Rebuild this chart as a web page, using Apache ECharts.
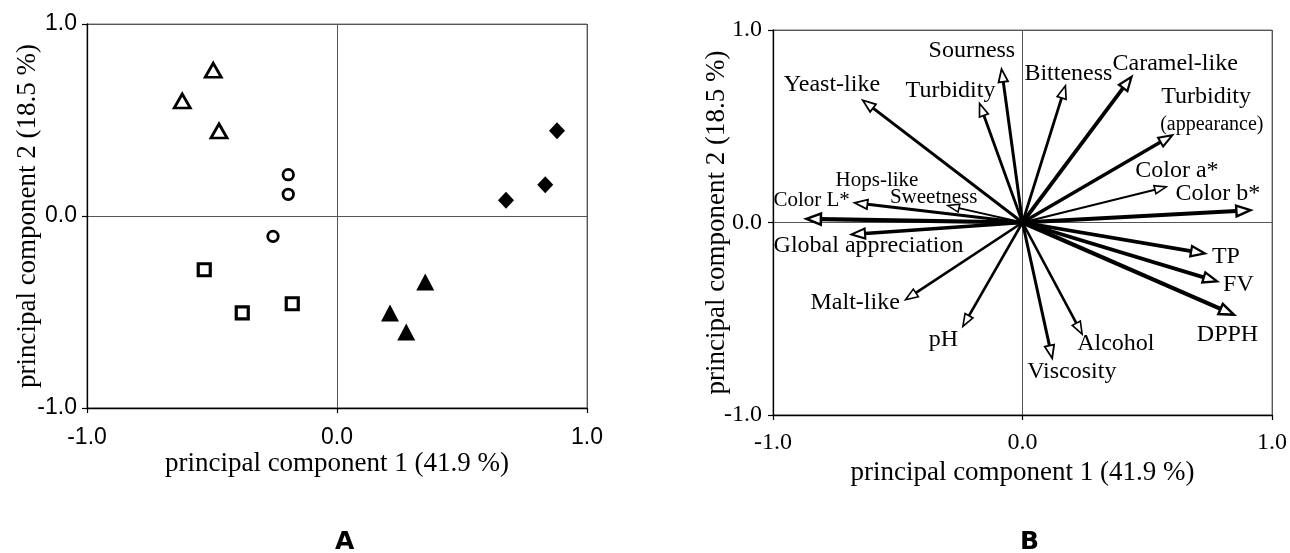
<!DOCTYPE html>
<html><head><meta charset="utf-8">
<script src="https://cdn.jsdelivr.net/npm/echarts@6/dist/echarts.min.js"></script>
<style>html,body{margin:0;padding:0;background:#fff}#c{width:1290px;height:553px}</style>
</head><body><div id="c"></div>
<script>
// ---- tick labels / titles ----
const tickValues = [-1, 0, 1];
const xTickLabels = ['-1.0', '0.0', '1.0'];
const yTickLabels = ['-1.0', '0.0', '1.0'];
const axisTitleX = 'principal component 1 (41.9 %)';
const axisTitleY = 'principal component 2 (18.5 %)';
const panelLabels = ['A', 'B'];

// ---- Panel A: scores (PC1, PC2) ----
const openTriangle   = [[-0.495, 0.759], [-0.619, 0.599], [-0.472, 0.443]];
const openCircle     = [[-0.195, 0.215], [-0.195, 0.113], [-0.256, -0.106]];
const openSquare     = [[-0.531, -0.280], [-0.379, -0.505], [-0.179, -0.457]];
const filledTriangle = [[0.353, -0.344], [0.212, -0.505], [0.277, -0.604]];
const filledDiamond  = [[0.880, 0.444], [0.833, 0.163], [0.676, 0.082]];

// ---- Panel B: loadings ----
const variables = ['Sourness', 'Turbidity', 'Yeast-like', 'Bitteness', 'Caramel-like',
  'Turbidity (appearance)', 'Color a*', 'Color b*', 'TP', 'FV', 'DPPH', 'Alcohol',
  'Viscosity', 'pH', 'Malt-like', 'Global appreciation', 'Color L*', 'Hops-like', 'Sweetness'];
const pc1 = [-0.084, -0.172, -0.640, 0.172, 0.437, 0.600, 0.576, 0.914, 0.731, 0.780,
  0.847, 0.239, 0.119, -0.239, -0.469, -0.685, -0.866, -0.673, -0.299];
const pc2 = [0.797, 0.618, 0.635, 0.710, 0.757, 0.453, 0.185, 0.064, -0.161, -0.306,
  -0.479, -0.580, -0.705, -0.540, -0.401, -0.062, 0.019, 0.102, 0.088];

// ---- styling (not data) ----
const arrowStyle = {
  'Sourness': 3.0, 'Turbidity': 2.8, 'Yeast-like': 3.0, 'Bitteness': 2.8, 'Caramel-like': 3.8,
  'Turbidity (appearance)': 3.4, 'Color a*': 2.0, 'Color b*': 4.0, 'TP': 3.8, 'FV': 3.8,
  'DPPH': 4.2, 'Alcohol': 2.6, 'Viscosity': 3.0, 'pH': 2.6, 'Malt-like': 2.6,
  'Global appreciation': 3.4, 'Color L*': 4.2, 'Hops-like': 3.0, 'Sweetness': 1.8
};
// label lines: [text, dx(left edge from tip), dy(middle from tip), font size]
const labelLayout = {
  'Sourness': [['Sourness', -73, -18, 24]],
  'Turbidity': [['Turbidity', -74, -13, 24]],
  'Yeast-like': [['Yeast-like', -79, -16, 24]],
  'Bitteness': [['Bitteness', -41, -12, 24]],
  'Caramel-like': [['Caramel-like', -19, -13, 24]],
  'Turbidity (appearance)': [['Turbidity', -11, -39, 24], ['(appearance)', -12, -11, 20]],
  'Color a*': [['Color a*', -31, -16, 24]],
  'Color b*': [['Color b*', -75, -16, 24]],
  'TP': [['TP', 7, 3, 24]],
  'FV': [['FV', 6, 3, 24]],
  'DPPH': [['DPPH', -37, 20, 24]],
  'Alcohol': [['Alcohol', -5, 10, 24]],
  'Viscosity': [['Viscosity', -25, 13, 24]],
  'pH': [['pH', -34, 13, 24]],
  'Malt-like': [['Malt-like', -95, 3, 24]],
  'Global appreciation': [['Global appreciation', -78, 11, 24]],
  'Color L*': [['Color L*', -33, -18, 21]],
  'Hops-like': [['Hops-like', -19, -22, 21]],
  'Sweetness': [['Sweetness', -58, -8, 21]]
};

const SERIF = '"Liberation Serif", "Times New Roman", serif';
const SANS = '"Liberation Sans", Arial, sans-serif';

function tickFmt(labels) {
  return function (v) {
    const i = tickValues.findIndex(t => Math.abs(t - v) < 1e-9);
    return i >= 0 ? labels[i] : '';
  };
}

function makeX(gi, labelFont, labelSize, labelMargin, nameGap) {
  return {
    gridIndex: gi, type: 'value', min: -1, max: 1, interval: 1,
    axisLine: { show: true, onZero: false, lineStyle: { color: '#000', width: 1.3 } },
    axisTick: { show: true, length: 5, lineStyle: { color: '#000', width: 1.2 } },
    splitLine: { show: true, lineStyle: { color: '#555', width: 1 } },
    axisLabel: { formatter: tickFmt(xTickLabels), color: '#000', fontFamily: labelFont, fontSize: labelSize, margin: labelMargin },
    name: axisTitleX, nameLocation: 'middle', nameGap: nameGap, nameMoveOverlap: false,
    nameTextStyle: { fontFamily: SERIF, fontSize: 27, color: '#000' }
  };
}
function makeY(gi, labelFont, labelSize, labelMargin, nameGap) {
  return {
    gridIndex: gi, type: 'value', min: -1, max: 1, interval: 1,
    axisLine: { show: true, onZero: false, lineStyle: { color: '#000', width: 1.3 } },
    axisTick: { show: true, length: 5, lineStyle: { color: '#000', width: 1.2 } },
    splitLine: { show: true, lineStyle: { color: '#555', width: 1 } },
    axisLabel: { formatter: tickFmt(yTickLabels), color: '#000', fontFamily: labelFont, fontSize: labelSize, margin: labelMargin },
    name: axisTitleY, nameLocation: 'middle', nameGap: nameGap, nameRotate: 90, nameMoveOverlap: false,
    nameTextStyle: { fontFamily: SERIF, fontSize: 27, color: '#000' }
  };
}

const arrowData = variables.map((n, i) => [pc1[i], pc2[i], i]);

const chart = echarts.init(document.getElementById('c'), null, { renderer: 'canvas' });
chart.setOption({
  animation: false,
  backgroundColor: '#fff',
  grid: [
    { left: 87, top: 24, width: 500, height: 384, show: true, borderColor: '#777', borderWidth: 1 },
    { left: 773, top: 30, width: 500, height: 385, show: true, borderColor: '#777', borderWidth: 1 }
  ],
  xAxis: [makeX(0, SANS, 23, 18, 42), makeX(1, SERIF, 24, 16, 44)],
  yAxis: [makeY(0, SANS, 23, 10, 46), makeY(1, SERIF, 24, 11, 43)],
  graphic: [
    { type: 'text', left: 335, top: 530, style: { text: panelLabels[0], font: 'bold 25px "DejaVu Sans", sans-serif', fill: '#000' } },
    { type: 'text', left: 1020, top: 530, style: { text: panelLabels[1], font: 'bold 25px "DejaVu Sans", sans-serif', fill: '#000' } }
  ],
  series: [
    { type: 'scatter', xAxisIndex: 0, yAxisIndex: 0, data: openTriangle, symbol: 'triangle', symbolSize: [16, 14],
      itemStyle: { color: '#fff', borderColor: '#000', borderWidth: 2.8, opacity: 1 } },
    { type: 'scatter', xAxisIndex: 0, yAxisIndex: 0, data: openCircle, symbol: 'circle', symbolSize: 10.5,
      itemStyle: { color: '#fff', borderColor: '#000', borderWidth: 2.8, opacity: 1 } },
    { type: 'scatter', xAxisIndex: 0, yAxisIndex: 0, data: openSquare, symbol: 'rect', symbolSize: 12,
      itemStyle: { color: '#fff', borderColor: '#000', borderWidth: 3.2, opacity: 1 } },
    { type: 'scatter', xAxisIndex: 0, yAxisIndex: 0, data: filledTriangle, symbol: 'triangle', symbolSize: [18, 17],
      itemStyle: { color: '#000', opacity: 1 } },
    { type: 'scatter', xAxisIndex: 0, yAxisIndex: 0, data: filledDiamond, symbol: 'diamond', symbolSize: [16, 17],
      itemStyle: { color: '#000', opacity: 1 } },
    {
      type: 'custom', xAxisIndex: 1, yAxisIndex: 1, data: arrowData, clip: false,
      renderItem: function (params, api) {
        const i = api.value(2);
        const name = variables[i];
        const o = api.coord([0, 0]);
        const t = api.coord([api.value(0), api.value(1)]);
        const dx = t[0] - o[0], dy = t[1] - o[1];
        const len = Math.hypot(dx, dy);
        const ux = dx / len, uy = dy / len;
        const w = arrowStyle[name];
        const hl = 9 + w * 1.3, hw = 3 + w * 0.6;
        const bx = t[0] - ux * hl, by = t[1] - uy * hl;
        const px = -uy, py = ux;
        const children = [
          { type: 'line', shape: { x1: o[0], y1: o[1], x2: bx, y2: by },
            style: { stroke: '#000', lineWidth: w } },
          { type: 'polygon', shape: { points: [[t[0], t[1]], [bx + px * hw, by + py * hw], [bx - px * hw, by - py * hw]] },
            style: { fill: '#fff', stroke: '#000', lineWidth: Math.max(1.6, w * 0.6), lineJoin: 'miter' } }
        ];
        (labelLayout[name] || []).forEach(function (l) {
          children.push({ type: 'text', x: t[0] + l[1], y: t[1] + l[2],
            style: { text: l[0], font: l[3] + 'px ' + SERIF, fill: '#000', align: 'left', verticalAlign: 'middle' } });
        });
        return { type: 'group', children: children };
      }
    }
  ]
});
</script></body></html>
